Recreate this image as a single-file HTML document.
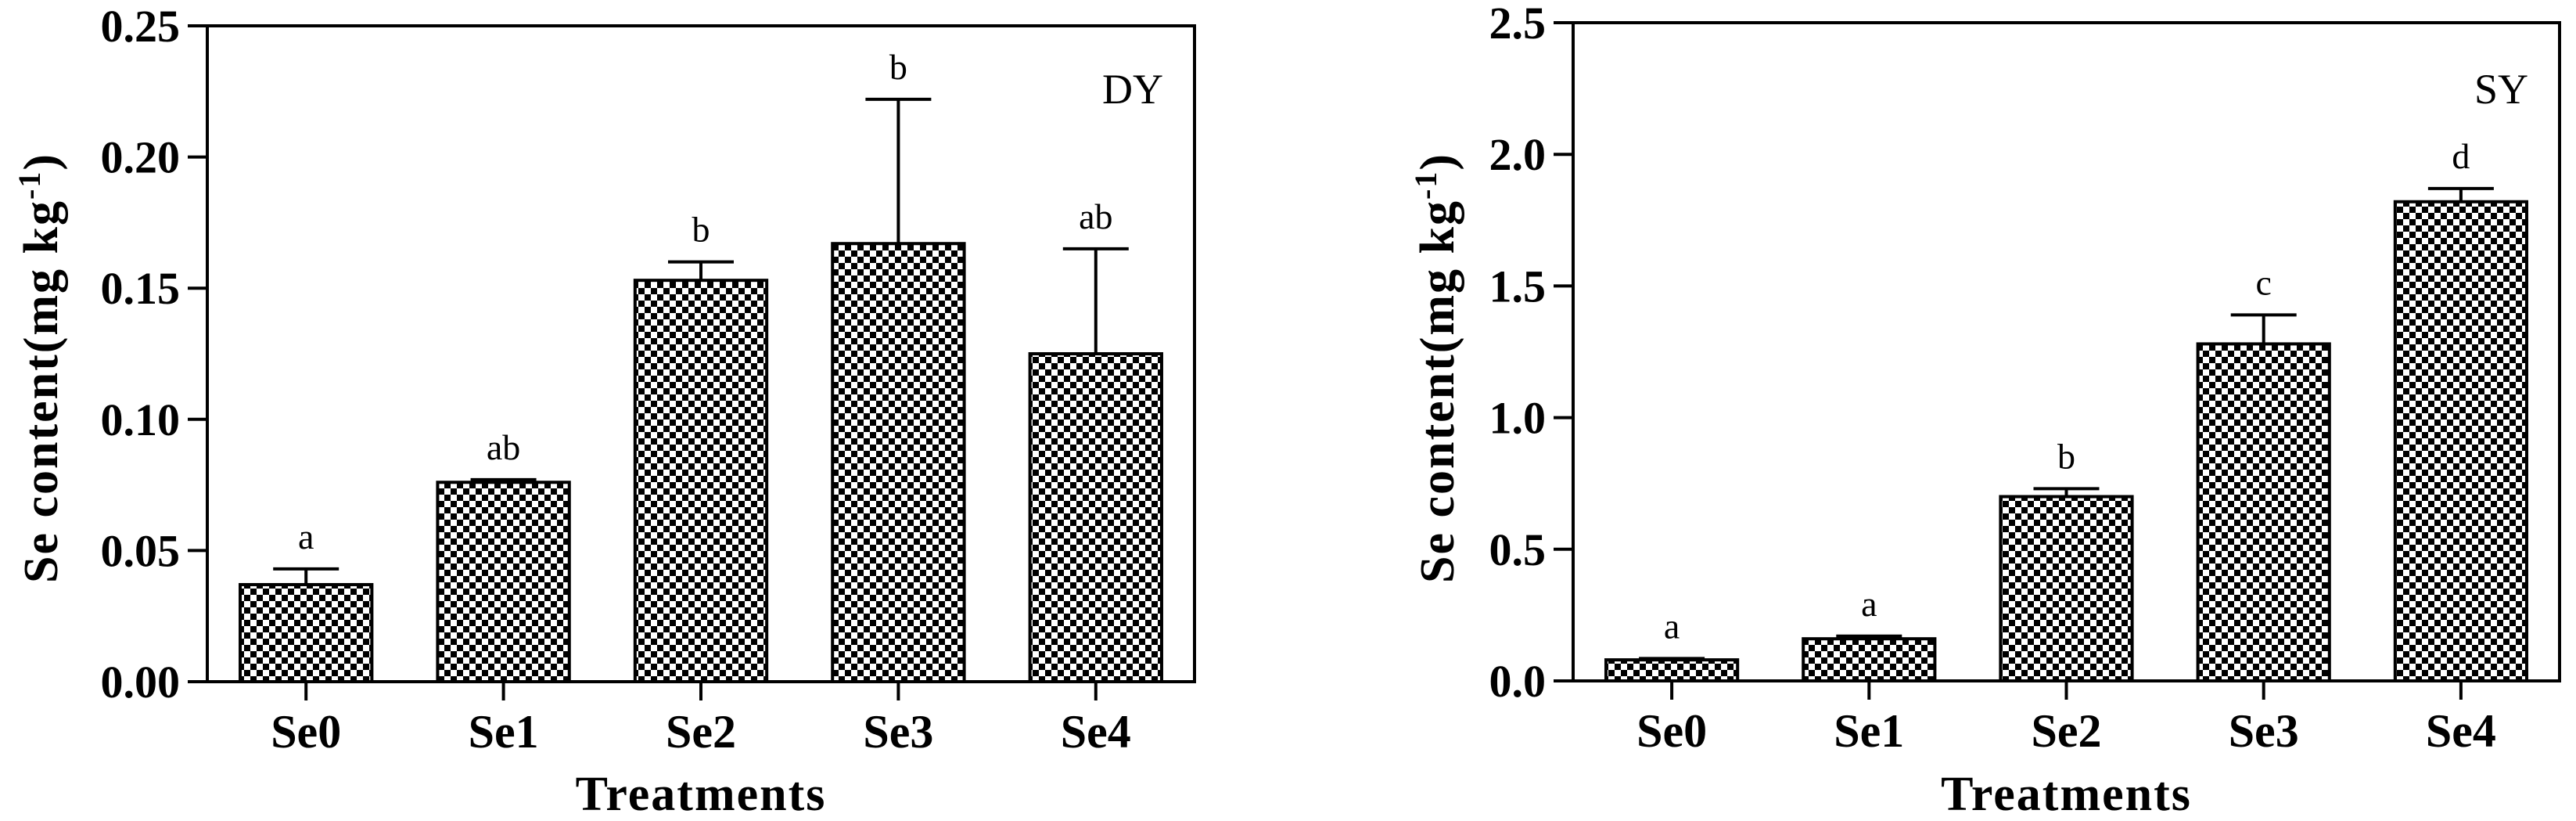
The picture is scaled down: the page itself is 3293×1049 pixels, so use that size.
<!DOCTYPE html>
<html><head><meta charset="utf-8"><style>
html,body{margin:0;padding:0;background:#fff;}
svg{display:block;font-family:"Liberation Serif",serif;}
</style></head><body>
<svg id="fig" width="3293" height="1049" viewBox="0 0 3293 1049" xmlns="http://www.w3.org/2000/svg">
<defs>
<pattern id="chk" width="16" height="16" patternUnits="userSpaceOnUse">
<rect width="16" height="16" fill="#fff"/>
<rect x="0" y="0" width="8" height="8" fill="#000"/>
<rect x="8" y="8" width="8" height="8" fill="#000"/>
</pattern>
</defs>
</svg>
<script>
const categories = ["Se0","Se1","Se2","Se3","Se4"];
const dyValues = [0.037,0.076,0.153,0.167,0.125];
const dyErrors = [0.006,0.001,0.007,0.055,0.040];
const dyLetters = ["a","ab","b","b","ab"];
const dyTicks = ["0.00","0.05","0.10","0.15","0.20","0.25"];
const syValues = [0.08,0.16,0.70,1.28,1.82];
const syErrors = [0.005,0.01,0.03,0.11,0.05];
const syLetters = ["a","a","b","c","d"];
const syTicks = ["0.0","0.5","1.0","1.5","2.0","2.5"];

const NS="http://www.w3.org/2000/svg";
const svg=document.getElementById('fig');
function mk(tag,attrs,parent){const e=document.createElementNS(NS,tag);for(const k in attrs)e.setAttribute(k,attrs[k]);(parent||svg).appendChild(e);return e;}

function chart(cfg){
  const g=mk('g',{});
  
  
  const L=cfg.left,R=cfg.right,T=cfg.top,B=cfg.bottom,maxV=cfg.max;
  const y=v=>B-(v/maxV)*(B-T);
  const band=(R-L)/categories.length;
  const xc=i=>L+band*(i+0.5);
  const bw=band*0.667;
  categories.forEach((c,i)=>{
    const v=cfg.values[i],e=cfg.errors[i];
    const bar=mk('rect',{x:xc(i)-bw/2,y:y(v),width:bw,height:B-y(v),fill:'url(#chk)',stroke:'#000','stroke-width':4},g);
    
    
    const eb=mk('path',{d:`M${xc(i)} ${y(v)} V${y(v+e)} M${xc(i)-42} ${y(v+e)} H${xc(i)+42}`,stroke:'#000','stroke-width':4,fill:'none'},g);
    
    
    const lt=mk('text',{x:xc(i),y:y(v+e)-26,'text-anchor':'middle','font-size':46},g);
    lt.textContent=cfg.letters[i];
    
    
    const tk=mk('line',{x1:xc(i),x2:xc(i),y1:B,y2:B+24,stroke:'#000','stroke-width':4},g);
    
    
    const cl=mk('text',{x:xc(i),y:B+84,'text-anchor':'middle','font-size':60,'font-weight':'bold'},g);
    cl.textContent=c;
    
    
  });
  const ax=mk('path',{d:`M${L} ${T} V${B} H${R} V${T} Z`,stroke:'#000','stroke-width':4,fill:'none'},g);
  
  
  cfg.ticks.forEach((t,k)=>{
    const v=maxV*k/(cfg.ticks.length-1);
    const tl=mk('line',{x1:L-25,x2:L,y1:y(v),y2:y(v),stroke:'#000','stroke-width':4},g);
    
    
    const tx=mk('text',{x:L-35,y:y(v)+20,'text-anchor':'end','font-size':58,'font-weight':'bold'},g);
    tx.textContent=t;
    
    
  });
  const yt=mk('text',{x:0,y:0,transform:`translate(${cfg.ytitleX},470) rotate(-90)`,'text-anchor':'middle','font-size':62,'font-weight':'bold','letter-spacing':2},g);
  yt.innerHTML='Se content(mg kg<tspan dy="-22" font-size="40">-1</tspan><tspan dy="22">)</tspan>';
  
  
  const xt=mk('text',{x:(L+R)/2,y:1035,'text-anchor':'middle','font-size':62,'font-weight':'bold','letter-spacing':2},g);
  xt.textContent='Treatments';
  
  
  const pl=mk('text',{x:R-40,y:132,'text-anchor':'end','font-size':54},g);
  pl.textContent=cfg.label;
  
  
}
chart({name:'dy-chart',left:265,right:1527,top:33,bottom:871,max:0.25,values:dyValues,errors:dyErrors,letters:dyLetters,ticks:dyTicks,ytitleX:73,label:'DY'});
chart({name:'sy-chart',left:2011,right:3272,top:29,bottom:870,max:2.5,values:syValues,errors:syErrors,letters:syLetters,ticks:syTicks,ytitleX:1858,label:'SY'});
</script>
</body></html>
